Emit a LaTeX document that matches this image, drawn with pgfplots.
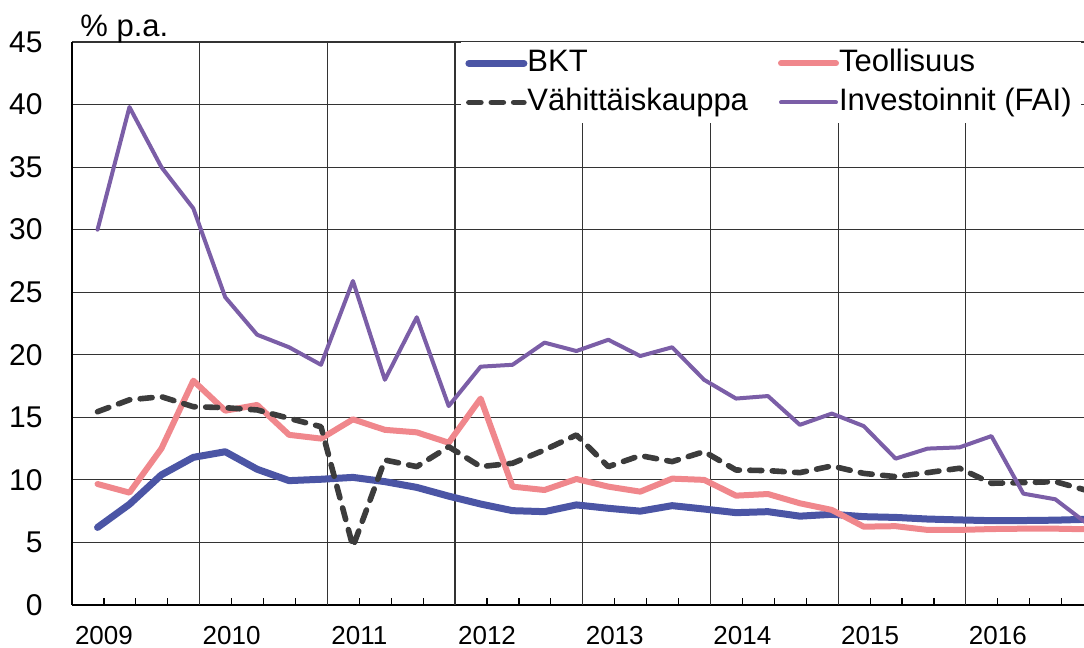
\documentclass[border=0pt]{standalone}
\usepackage{fontspec}
\setmainfont{Liberation Sans}
\usepackage{pgfplots}
\pgfplotsset{compat=1.18}
\usepackage{pgfplotstable}

\definecolor{bkt}{RGB}{75,85,165}
\definecolor{teol}{RGB}{240,135,140}
\definecolor{vahi}{RGB}{60,60,60}
\definecolor{inv}{RGB}{123,94,167}

\pgfplotstableread{
q bkt teol vahi inv
0 6.2 9.67 15.45 30.0
1 8.05 8.98 16.4 39.8
2 10.4 12.5 16.65 35.0
3 11.8 17.93 15.85 31.7
4 12.25 15.53 15.77 24.6
5 10.85 15.99 15.59 21.6
6 9.94 13.6 14.92 20.6
7 10.05 13.3 14.25 19.2
8 10.2 14.84 4.66 25.9
9 9.86 14.0 11.59 18.0
10 9.4 13.8 11.06 23.0
11 8.7 12.97 12.65 15.9
12 8.07 16.5 11.06 19.05
13 7.54 9.46 11.33 19.2
14 7.46 9.19 12.39 20.97
15 8.0 10.07 13.59 20.3
16 7.73 9.46 11.06 21.2
17 7.5 9.06 11.94 19.9
18 7.94 10.1 11.46 20.6
19 7.67 10.0 12.26 18.0
20 7.38 8.74 10.79 16.5
21 7.46 8.87 10.74 16.7
22 7.1 8.13 10.58 14.4
23 7.25 7.6 11.11 15.3
24 7.06 6.26 10.52 14.3
25 7.0 6.3 10.26 11.7
26 6.87 6.0 10.58 12.5
27 6.8 6.0 10.93 12.6
28 6.74 6.07 9.73 13.5
29 6.75 6.1 9.78 8.9
30 6.78 6.1 9.86 8.45
31 6.85 6.05 9.15 6.5
}\data

\begin{document}
\begin{tikzpicture}
\begin{axis}[
  scale only axis,
  width=506pt, height=281.5pt,
  xmin=0, xmax=31.7, ymin=0, ymax=45,
  axis x line=bottom, axis y line=left,
  axis line style={-, line width=1.1pt, black},
  xtick={0,...,31},
  xticklabels={,2009,,,,2010,,,,2011,,,,2012,,,,2013,,,,2014,,,,2015,,,,2016,,},
  tick align=inside,
  major tick length=3.5pt,
  x tick style={black, line width=0.6pt},
  extra x ticks={4,8,...,28},
  extra x tick labels={},
  extra x tick style={grid=major, major tick length=0pt},
  ytick={0,5,...,45},
  ymajorgrids,
  y tick style={draw=none},
  major grid style={black!80, line width=0.6pt},
  yticklabel style={font=\fontsize{15}{18}\selectfont, anchor=east, inner sep=0pt, xshift=-14.5pt},
  xticklabel style={font=\fontsize{13}{16}\selectfont, anchor=north, inner sep=0pt, yshift=-10.5pt},
  /pgf/number format/assume math mode=true,
  legend columns=2,
  legend cell align=left,
  legend style={at={(0.3844,1)}, anchor=north west, fill=white, draw=none,
    inner xsep=2pt, inner ysep=2pt, row sep=2.5pt,
    font=\fontsize{15.5}{18}\selectfont,
    nodes={inner xsep=2.5pt, inner ysep=1pt, text height=11.5pt, text depth=3.5pt},
    /tikz/every odd column/.append style={column sep=-2.5pt},
    /tikz/every even column/.append style={column sep=12.5pt}},
  legend image code/.code={\draw[#1] (0pt,0pt) -- (27.5pt,0pt);},
]
\addplot[bkt, line width=3.5pt, line join=round, line cap=round] table[x expr=\thisrow{q}+0.8, y=bkt]{\data};
\addlegendentry{BKT}
\addplot[teol, line width=3pt, line join=round, line cap=round] table[x expr=\thisrow{q}+0.8, y=teol]{\data};
\addlegendentry{Teollisuus}
\addplot[vahi, line width=2.8pt, line join=round, line cap=round, dash pattern=on 6pt off 5.2pt] table[x expr=\thisrow{q}+0.8, y=vahi]{\data};
\addlegendentry{Vähittäiskauppa}
\addplot[inv, line width=2pt, line join=round, line cap=round] table[x expr=\thisrow{q}+0.8, y=inv]{\data};
\addlegendentry{Investoinnit (FAI)}
\coordinate (BL) at (rel axis cs:0,0);
\coordinate (TR) at (rel axis cs:1,1);
\coordinate (TL) at (rel axis cs:0,1);
\end{axis}
\node[anchor=base west, font=\fontsize{15.5}{18}\selectfont, inner sep=0pt] at ([xshift=4pt,yshift=2.5pt]TL) {\% p.a.};
\pgfresetboundingbox
\useasboundingbox ([xshift=-36pt,yshift=-21.5pt]BL) rectangle ([yshift=21pt]TR);
\end{tikzpicture}
\end{document}
